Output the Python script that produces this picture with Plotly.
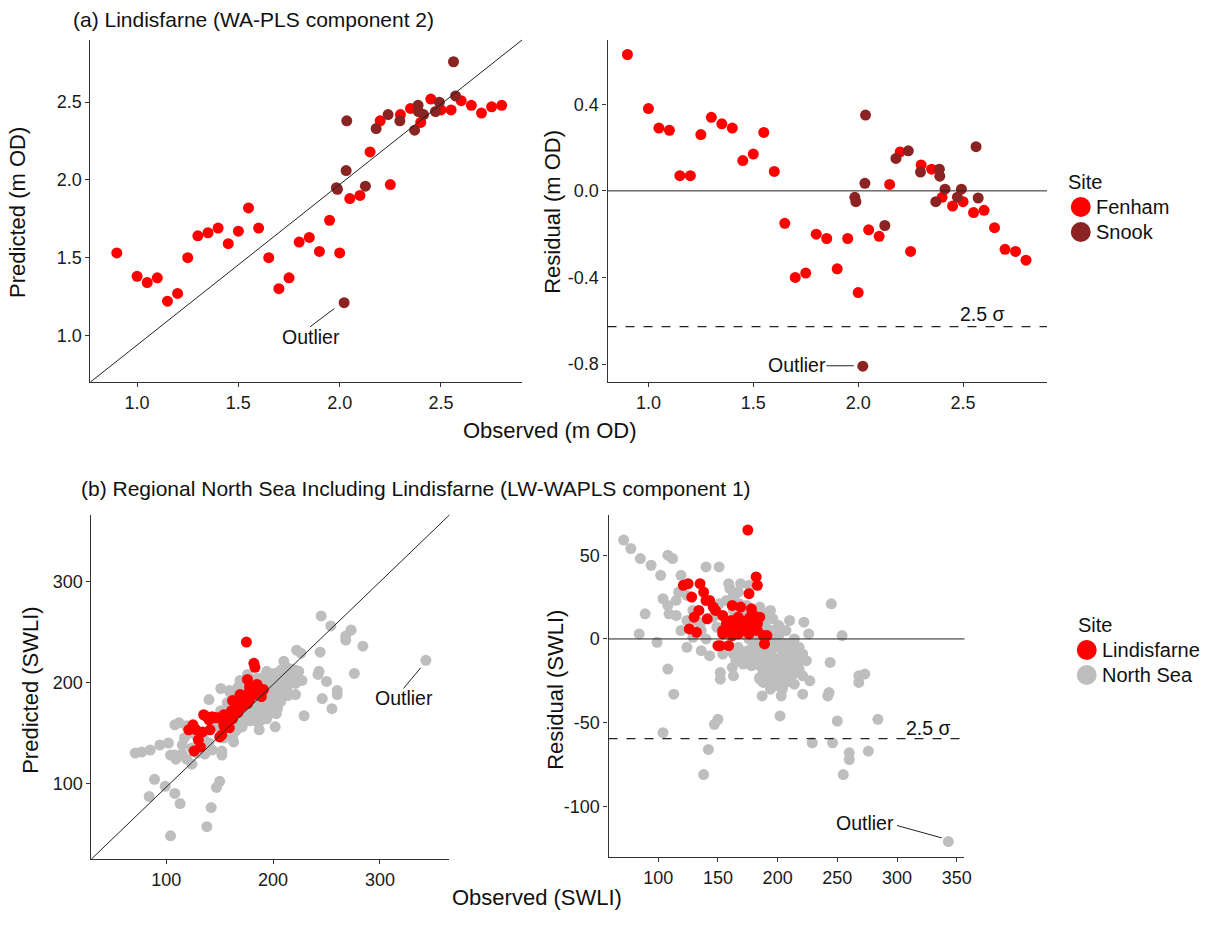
import plotly.graph_objects as go

# ---------------- DATA ----------------
# (a) Lindisfarne, WA-PLS component 2 (m OD)
fenham_obs = [0.90, 1.00, 1.05, 1.10, 1.15, 1.20, 1.25, 1.30, 1.35, 1.40, 1.45, 1.50, 1.55,
              1.60, 1.65, 1.70, 1.75, 1.80, 1.85, 1.90, 1.95, 2.00, 2.05, 2.10, 2.15, 2.20,
              2.25, 2.30, 2.35, 2.40, 2.45, 2.50, 2.55, 2.60, 2.65, 2.70, 2.75, 2.80]
fenham_pred = [1.53, 1.38, 1.34, 1.37, 1.22, 1.27, 1.50, 1.64, 1.66, 1.69, 1.59, 1.67, 1.82,
               1.69, 1.50, 1.30, 1.37, 1.60, 1.63, 1.54, 1.74, 1.53, 1.88, 1.90, 2.18, 2.38,
               1.97, 2.42, 2.46, 2.37, 2.52, 2.45, 2.45, 2.51, 2.48, 2.43, 2.47, 2.48]
fenham_resid = [0.63, 0.38, 0.29, 0.28, 0.07, 0.07, 0.26, 0.34, 0.31, 0.29, 0.14, 0.17, 0.27,
                0.09, -0.15, -0.40, -0.38, -0.20, -0.22, -0.36, -0.22, -0.47, -0.18, -0.21, 0.03, 0.18,
                -0.28, 0.12, 0.10, -0.03, -0.07, -0.05, -0.10, -0.09, -0.17, -0.27, -0.28, -0.32]

snook_obs = [2.035, 2.032, 1.984, 1.989, 2.127, 2.022, 2.180, 2.239, 2.297, 2.387, 2.389,
             2.414, 2.370, 2.473, 2.492, 2.562, 2.572]
snook_pred = [2.38, 2.06, 1.95, 1.94, 1.96, 1.21, 2.33, 2.42, 2.38, 2.48, 2.44,
              2.42, 2.32, 2.44, 2.50, 2.76, 2.54]
snook_resid = [0.35, 0.035, -0.03, -0.05, -0.16, -0.81, 0.15, 0.185, 0.087, 0.10, 0.068,
               0.008, -0.05, -0.029, 0.008, 0.204, -0.033]

sigma_a = -0.627   # 2.5 sigma threshold (m OD)

# (b) Regional North Sea incl. Lindisfarne, LW-WAPLS component 1 (SWLI)
lind_obs = [175, 182, 183, 176, 121, 125, 135, 138, 128, 140, 143, 146, 148, 134, 130, 141, 126, 132, 154, 162,
            169, 178, 179, 185, 167, 161, 158, 164, 171, 175, 181, 171, 167, 162, 154, 154, 176, 183, 188, 191,
            189, 150, 152, 159, 169, 174, 177, 165, 172, 168, 162, 179, 157, 178, 183]
lind_pred = [240, 219, 215, 203, 153, 158, 168, 166, 153, 163, 166, 165, 165, 151, 143, 153, 132, 136, 168, 182,
             188, 196, 194, 198, 180, 172, 165, 172, 181, 183, 188, 176, 170, 164, 157, 159, 179, 188, 190, 193,
             186, 146, 148, 155, 176, 185, 190, 171, 179, 177, 167, 189, 166, 183, 192]
lind_resid = [65, 37, 32, 27, 32, 33, 33, 28, 25, 23, 23, 19, 17, 17, 13, 12, 6, 4, 14, 20,
              19, 18, 15, 13, 13, 11, 7, 8, 10, 8, 7, 5, 3, 2, 3, 5, 3, 5, 2, 2,
              -3, -4, -4, -4, 7, 11, 13, 6, 7, 9, 5, 10, 9, 5, 9]

ns_obs = [71, 77, 85, 94, 102, 104, 108, 112, 108, 109, 115, 89, 84, 99, 108, 113, 104, 119, 117, 124,
          136, 143, 140, 151, 138, 142, 147, 150, 129, 149, 154, 152, 152, 162, 163, 159, 160, 169, 176, 167,
          185, 187, 194, 196, 201,
          245, 254, 244, 243, 242, 250, 246, 229, 260, 260, 255, 276, 284, 268, 273, 268, 343, 202, 221, 227,
          221, 226, 222, 214, 210,
          165, 171, 176, 167, 171, 174, 179, 182, 185, 188, 192, 194, 197, 200, 203, 206, 208, 211, 208, 204,
          200, 196, 192, 188, 185, 190, 196, 201, 207, 213, 215, 213, 207, 201, 197, 204, 214, 218, 203, 201,
          200, 206, 210, 196, 193, 189, 183, 179, 175, 168, 163, 160, 157, 163, 168, 174, 179, 182, 188, 192,
          132, 135, 124, 146, 151, 157, 163, 168, 174, 179, 185, 190, 207, 218, 221, 224, 200, 194, 188, 183,
          178, 171, 165, 185, 190, 194, 197, 203, 207, 213, 215, 219, 211, 214, 192, 194, 185, 163, 115, 124,
          129, 119, 136, 140]
ns_pred = [130, 131, 133, 138, 140, 128, 158, 160, 128, 124, 129, 104, 87, 97, 90, 80, 48, 157, 145, 119,
           129, 133, 183, 194, 57, 76, 96, 102, 130, 156, 145, 132, 128, 145, 141, 192, 190, 202, 208, 195,
           162, 153, 211, 208, 209,
           266, 256, 230, 211, 208, 201, 184, 167, 192, 188, 174, 209, 236, 246, 252, 242, 222, 156, 188, 202,
           199, 229, 232, 214, 221,
           170, 174, 176, 162, 163, 163, 170, 169, 169, 169, 177, 177, 177, 178, 179, 186, 192, 198, 199, 197,
           195, 194, 193, 191, 192, 197, 201, 203, 204, 205, 200, 192, 181, 173, 169, 174, 198, 200, 169, 198,
           188, 193, 202, 185, 185, 184, 180, 174, 168, 155, 154, 162, 168, 180, 187, 189, 190, 185, 199, 205,
           143, 144, 135, 159, 172, 180, 187, 189, 194, 196, 204, 205, 212, 213, 212, 211, 183, 170, 162, 172,
           162, 156, 152, 177, 179, 186, 184, 185, 194, 208, 204, 206, 187, 187, 170, 164, 161, 189, 138, 150,
           146, 124, 141, 140]
ns_resid = [59, 54, 48, 44, 38, 24, 50, 48, 20, 15, 14, 15, 3, -2, -18, -33, -56, 38, 28, -5,
            -7, -10, 43, 43, -81, -66, -51, -48, 1, 7, -9, -20, -24, -17, -22, 33, 30, 33, 32, 28,
            -23, -34, 17, 12, 8,
            21, 2, -14, -32, -34, -49, -62, -62, -68, -72, -81, -67, -48, -22, -21, -26, -121, -46, -33, -25,
            -22, 3, 10, 0, 11,
            5, 3, 0, -5, -8, -11, -9, -13, -16, -19, -15, -17, -20, -22, -24, -20, -16, -13, -9, -7,
            -5, -2, 1, 3, 7, 7, 5, 2, -3, -8, -15, -21, -26, -28, -28, -30, -16, -18, -34, -3,
            -12, -13, -8, -11, -8, -5, -3, -5, -7, -13, -9, 2, 11, 17, 19, 15, 11, 3, 11, 13,
            11, 9, 11, 13, 21, 23, 24, 21, 20, 17, 19, 15, 5, -5, -9, -13, -17, -24, -26, -11,
            -16, -15, -13, -8, -11, -8, -13, -18, -13, -5, -11, -13, -24, -27, -22, -30, -24, 26, 23, 26,
            17, 5, 5, 0]

sigma_b = -59.5   # 2.5 sigma threshold (SWLI)

site_a = ["Fenham", "Snook"]
site_b = ["Lindisfarne", "North Sea"]

# ---------------- STYLE ----------------
FONT = "Liberation Sans, Arial, Helvetica, sans-serif"
RED = "#FF0000"
DARK = "#8B2323"
GREY = "#BEBEBE"
AXC = "#333333"
TXT = "#111111"
W, H = 1224, 937


def px_x(p):
    return p / W


def px_y(p):
    return 1 - p / H


def axis(domain, rng, tickvals, ticktext, anchor):
    return dict(domain=domain, range=rng, tickvals=tickvals, ticktext=ticktext, anchor=anchor,
                showline=True, linecolor=AXC, linewidth=1.4, ticks="outside", ticklen=4,
                tickwidth=1.2, tickcolor=AXC, showgrid=False, zeroline=False,
                tickfont=dict(size=18, color="#1a1a1a", family=FONT), fixedrange=True)


fig = go.Figure()

MS_A = 11
MS_B = 11

# panel (a) left
fig.add_trace(go.Scatter(x=fenham_obs, y=fenham_pred, mode="markers", xaxis="x", yaxis="y",
                         marker=dict(color=RED, size=MS_A), showlegend=False, name=site_a[0]))
fig.add_trace(go.Scatter(x=snook_obs, y=snook_pred, mode="markers", xaxis="x", yaxis="y",
                         marker=dict(color=DARK, size=MS_A), showlegend=False, name=site_a[1]))
# panel (a) right
fig.add_trace(go.Scatter(x=fenham_obs, y=fenham_resid, mode="markers", xaxis="x2", yaxis="y2",
                         marker=dict(color=RED, size=MS_A), showlegend=False, name=site_a[0]))
fig.add_trace(go.Scatter(x=snook_obs, y=snook_resid, mode="markers", xaxis="x2", yaxis="y2",
                         marker=dict(color=DARK, size=MS_A), showlegend=False, name=site_a[1]))
# panel (b) left
fig.add_trace(go.Scatter(x=ns_obs, y=ns_pred, mode="markers", xaxis="x3", yaxis="y3",
                         marker=dict(color=GREY, size=MS_B), showlegend=False, name=site_b[1]))
fig.add_trace(go.Scatter(x=lind_obs, y=lind_pred, mode="markers", xaxis="x3", yaxis="y3",
                         marker=dict(color=RED, size=MS_B), showlegend=False, name=site_b[0]))
# panel (b) right
fig.add_trace(go.Scatter(x=ns_obs, y=ns_resid, mode="markers", xaxis="x4", yaxis="y4",
                         marker=dict(color=GREY, size=MS_B), showlegend=False, name=site_b[1]))
fig.add_trace(go.Scatter(x=lind_obs, y=lind_resid, mode="markers", xaxis="x4", yaxis="y4",
                         marker=dict(color=RED, size=MS_B), showlegend=False, name=site_b[0]))

dom_y_top = [px_y(382), px_y(40)]
dom_y_bot = [px_y(859), px_y(515)]

fig.update_layout(
    width=W, height=H, margin=dict(l=0, r=0, t=0, b=0),
    paper_bgcolor="white", plot_bgcolor="white", showlegend=False,
    font=dict(family=FONT, color=TXT),
    xaxis=axis([px_x(91), px_x(525)], [0.77, 2.90], [1, 1.5, 2, 2.5], ["1.0", "1.5", "2.0", "2.5"], "y"),
    yaxis=axis(dom_y_top, [0.70, 2.90], [1, 1.5, 2, 2.5], ["1.0", "1.5", "2.0", "2.5"], "x"),
    xaxis2=axis([px_x(611), px_x(1053)], [0.805, 2.90], [1, 1.5, 2, 2.5], ["1.0", "1.5", "2.0", "2.5"], "y2"),
    yaxis2=axis(dom_y_top, [-0.883, 0.697], [-0.8, -0.4, 0, 0.4], ["-0.8", "-0.4", "0.0", "0.4"], "x2"),
    xaxis3=axis([px_x(92), px_x(452)], [30, 365], [100, 200, 300], ["100", "200", "300"], "y3"),
    yaxis3=axis(dom_y_bot, [25, 366], [100, 200, 300], ["100", "200", "300"], "x3"),
    xaxis4=axis([px_x(612), px_x(970)], [58.3, 356.5], [100, 150, 200, 250, 300, 350],
                ["100", "150", "200", "250", "300", "350"], "y4"),
    yaxis4=axis([px_y(857), px_y(515)], [-130.2, 74], [-100, -50, 0, 50], ["-100", "-50", "0", "50"], "x4"),
)

shapes = []
# 1:1 lines (panel diagonals)
for xa, ya in [("x", "y"), ("x3", "y3")]:
    shapes.append(dict(type="line", xref=xa + " domain", yref=ya + " domain", x0=0, y0=0, x1=1, y1=1,
                       line=dict(color="#222", width=1)))
# zero lines and 2.5 sigma lines
for xa, ya, sig in [("x2", "y2", sigma_a), ("x4", "y4", sigma_b)]:
    shapes.append(dict(type="line", xref=xa + " domain", yref=ya, x0=0, x1=1, y0=0, y1=0,
                       line=dict(color="#222", width=1)))
    shapes.append(dict(type="line", xref=xa + " domain", yref=ya, x0=0, x1=1, y0=sig, y1=sig,
                       line=dict(color="#222", width=1.3, dash="dash")))
# outlier leader lines
shapes += [
    dict(type="line", xref="x", yref="y", x0=1.854, y0=1.055, x1=1.974, y1=1.173, line=dict(color="#222", width=1)),
    dict(type="line", xref="x2", yref="y2", x0=1.848, y0=-0.808, x1=1.979, y1=-0.808, line=dict(color="#222", width=1)),
    dict(type="line", xref="x3", yref="y3", x0=322.1, y0=194.1, x1=338.1, y1=214.5, line=dict(color="#222", width=1)),
    dict(type="line", xref="x4", yref="y4", x0=300, y0=-111.4, x1=337.5, y1=-118.8, line=dict(color="#222", width=1)),
]

ann = []


def txt(text, x, y, xref="paper", yref="paper", size=22, xanchor="center", yanchor="middle", angle=0):
    ann.append(dict(text=text, x=x, y=y, xref=xref, yref=yref, showarrow=False, xanchor=xanchor,
                    yanchor=yanchor, textangle=angle, borderpad=0,
                    font=dict(size=size, family=FONT, color=TXT)))


# manual legends ("Site")
R_LEG = 10
LEG_FS = 20
for title_xy, entries in [((1073, 182), [(site_a[0], RED, 1087, 207), (site_a[1], DARK, 1087, 232)]),
                          ((1083, 625), [(site_b[0], RED, 1093, 650), (site_b[1], GREY, 1093, 675)])]:
    txt("Site", px_x(title_xy[0]), px_y(title_xy[1]), size=LEG_FS, xanchor="left")
    for label, col, cx, cy in entries:
        shapes.append(dict(type="circle", xref="paper", yref="paper",
                           x0=px_x(cx - R_LEG), x1=px_x(cx + R_LEG), y0=px_y(cy + R_LEG), y1=px_y(cy - R_LEG),
                           fillcolor=col, line=dict(width=0)))
        txt(label, px_x(cx + 14), px_y(cy), size=LEG_FS, xanchor="left")

fig.update_layout(shapes=shapes)

txt("(a) Lindisfarne (WA-PLS component 2)", px_x(72), px_y(19), size=21, xanchor="left")
txt("(b) Regional North Sea Including Lindisfarne (LW-WAPLS component 1)", px_x(80), px_y(488), size=21, xanchor="left")
txt("Observed (m OD)", px_x(553), px_y(430))
txt("Observed (SWLI)", px_x(540), px_y(897))
txt("Predicted (m OD)", px_x(18), px_y(212), angle=-90)
txt("Residual (m OD)", px_x(556), px_y(212), angle=-90)
txt("Predicted (SWLI)", px_x(30), px_y(690), angle=-90)
txt("Residual (SWLI)", px_x(558), px_y(690), angle=-90)
txt("Outlier", 1.859, 0.987, "x", "y", size=19.5)
txt("Outlier", 1.706, -0.805, "x2", "y2", size=19.5)
txt("Outlier", 322.7, 184.2, "x3", "y3", size=19.5)
txt("Outlier", 273, -109.8, "x4", "y4", size=19.5)
txt("2.5 σ", 2.595, -0.57, "x2", "y2", size=19.5)
txt("2.5 σ", 326.3, -53.2, "x4", "y4", size=19.5)
fig.update_layout(annotations=ann)

fig.write_html("out.html")
